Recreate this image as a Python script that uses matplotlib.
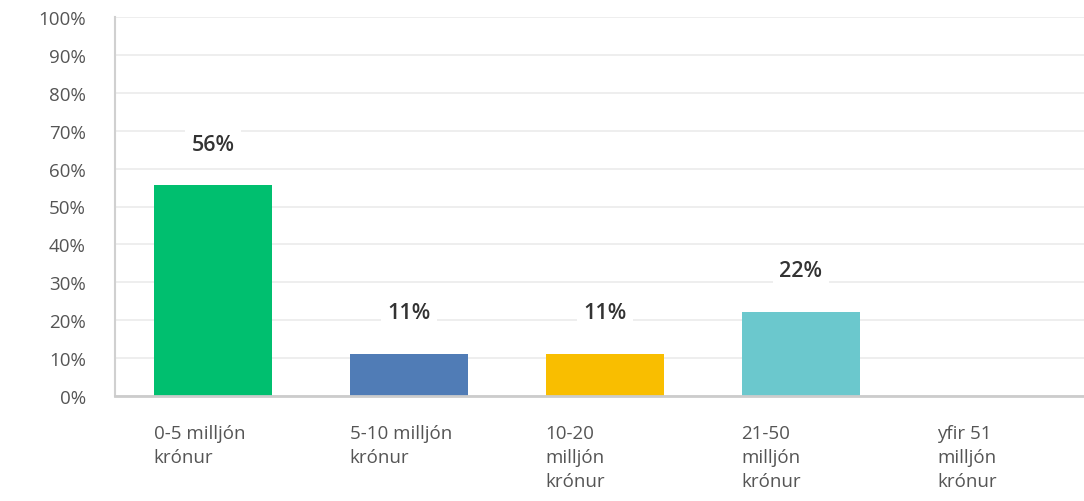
import matplotlib.pyplot as plt
import numpy as np

# categories and values (9 answers -> shares)
categories = ["0-5 milljón\nkrónur", "5-10 milljón\nkrónur", "10-20\nmilljón\nkrónur",
              "21-50\nmilljón\nkrónur", "yfir 51\nmilljón\nkrónur"]
values = [55.56, 11.11, 11.11, 22.22, 0]
value_labels = ["56%", "11%", "11%", "22%", ""]
colors = ["#00BF6F", "#507CB6", "#F9BE00", "#6BC8CD", "#A3A3A3"]
yticks = np.arange(0, 101, 10)

plt.rcParams['font.family'] = ['Open Sans', 'DejaVu Sans']

fig = plt.figure(figsize=(10.84, 5.02), dpi=100)
ax = fig.add_axes([115 / 1084, 1 - 397 / 502, 980 / 1084, 379 / 502])

x = np.arange(len(categories))
width = 0.607
bars = ax.bar(x, values, width=width, color=colors, zorder=2)

for i, (v, lab) in enumerate(zip(values, value_labels)):
    if lab:
        ax.annotate(lab, (x[i], v), xytext=(0, 29.5), textcoords="offset points",
                    ha="center", va="center", fontsize=15.5, fontweight="semibold",
                    color="#333333", zorder=3,
                    bbox=dict(boxstyle="square,pad=0.3", fc="white", ec="none"))

ax.set_xlim(-0.5, 4.5)
ax.set_ylim(0, 100)
ax.set_yticks(yticks)
ax.set_yticklabels([f"{t}%" for t in yticks], fontsize=13.5, color="#555555")
ax.set_xticks(x - width / 2)
ax.set_xticklabels(categories, ha="left", fontsize=13.5, color="#555555", linespacing=1.45)
ax.tick_params(axis="y", length=0, pad=21)
ax.tick_params(axis="x", length=0, pad=20)

ax.grid(axis="y", color="#EBEBEB", linewidth=1.2, zorder=0)
for s in ["top", "right"]:
    ax.spines[s].set_visible(False)
ax.spines["left"].set_color("#D0D0D0")
ax.spines["left"].set_linewidth(1.5)
ax.spines["bottom"].set_color("#CCCCCC")
ax.spines["bottom"].set_linewidth(2)

fig.savefig("out.png", dpi=100)
